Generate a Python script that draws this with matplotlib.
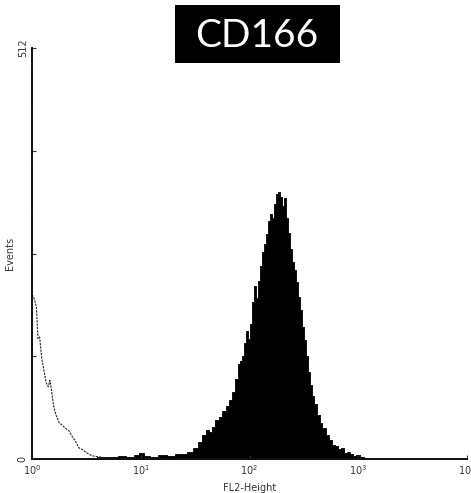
import numpy as np
import matplotlib
matplotlib.use("Agg")
import matplotlib.pyplot as plt
from matplotlib.patches import Rectangle

# CD166 stained sample, FL2 decade position vs. event count
stain_log = [0.60, 0.68, 0.75, 0.83, 0.90, 0.97, 1.00, 1.05, 1.12, 1.20, 1.28, 1.34,
             1.389, 1.453, 1.499, 1.545, 1.582, 1.609, 1.637, 1.664, 1.701, 1.729,
             1.766, 1.793, 1.821, 1.848, 1.876, 1.903, 1.922, 1.940, 1.959, 1.977,
             1.995, 2.014, 2.032, 2.051, 2.069, 2.087, 2.106, 2.124, 2.142, 2.161,
             2.179, 2.198, 2.216, 2.234, 2.253, 2.271, 2.289, 2.308, 2.326, 2.345,
             2.363, 2.382, 2.400, 2.418, 2.437, 2.455, 2.474, 2.492, 2.510, 2.529,
             2.547, 2.566, 2.584, 2.602, 2.630, 2.657, 2.685, 2.713, 2.740, 2.768,
             2.795, 2.823, 2.851, 2.878, 2.906, 2.933, 2.961, 2.998, 3.034, 3.071]
stain_counts = [2, 3, 2, 4, 3, 5, 7, 4, 3, 5, 4, 6,
                6, 9, 14, 21, 30, 36, 34, 40, 48, 52,
                60, 66, 74, 84, 100, 118, 122, 128, 145, 160,
                150, 168, 195, 215, 200, 222, 240, 258, 268, 280,
                296, 305, 300, 318, 330, 332, 326, 315, 325, 300,
                282, 262, 246, 235, 220, 202, 185, 165, 148, 128,
                108, 92, 78, 68, 55, 45, 38, 30, 24, 18,
                16, 12, 14, 8, 9, 6, 4, 5, 2, 1]

# isotype control
iso_log = [0.000, 0.020, 0.040, 0.055, 0.070, 0.090, 0.110, 0.130, 0.150, 0.165,
           0.180, 0.200, 0.220, 0.250, 0.280, 0.310, 0.340, 0.370, 0.400, 0.430,
           0.460, 0.500, 0.550, 0.600, 0.650, 0.700]
iso_counts = [205, 200, 190, 150, 152, 125, 110, 95, 90, 98,
              85, 65, 55, 45, 42, 38, 35, 28, 22, 14,
              12, 8, 4, 3, 2, 1]

W, H = 471, 493
fig = plt.figure(figsize=(W / 100, H / 100), dpi=100)
ax = fig.add_axes([32 / W, 1 - 459 / H, (467 - 32) / W, (459 - 48) / H])

sx = 10 ** np.array(stain_log)
ax.fill_between(sx, stain_counts, step="mid", color="black", lw=0.6, edgecolor="black")
ax.plot(10 ** np.array(iso_log), iso_counts, color="#222222", lw=0.8,
        linestyle=(0, (2, 1)))

ax.set_xscale("log")
ax.set_xlim(1, 1e4)
ax.set_ylim(0, 512)
ax.set_xticks([1, 10, 100, 1000, 10000])
ax.set_xticklabels([r"$10^0$", r"$10^1$", r"$10^2$", r"$10^3$", r"$10^4$"])
ax.xaxis.set_minor_locator(matplotlib.ticker.NullLocator())
ax.set_yticks([0, 128, 256, 384, 512])
ax.set_yticklabels(["0", "", "", "", "512"])
plt.setp(ax.get_yticklabels(), rotation=90, va="center")
ax.tick_params(direction="in", length=3, width=0.8, labelsize=7, colors="#333333", pad=3)

for side in ("top", "right"):
    ax.spines[side].set_visible(False)
for side in ("left", "bottom"):
    ax.spines[side].set_linewidth(1.4)
    ax.spines[side].set_linestyle((0, (1.5, 0.6)))
    ax.spines[side].set_color("#111111")

ax.set_xlabel("FL2-Height", fontsize=7, color="#333333", labelpad=4)
ax.set_ylabel("Events", fontsize=7, color="#333333", labelpad=2)

# title badge
fig.add_artist(Rectangle((175 / W, 1 - 63 / H), (340 - 175) / W, 58 / H,
                         transform=fig.transFigure, facecolor="black", edgecolor="none"))
fig.text(257 / W, 1 - 36 / H, "CD166", color="white", fontsize=28,
         family="Lato", ha="center", va="center")

fig.savefig("out.png", dpi=100)
